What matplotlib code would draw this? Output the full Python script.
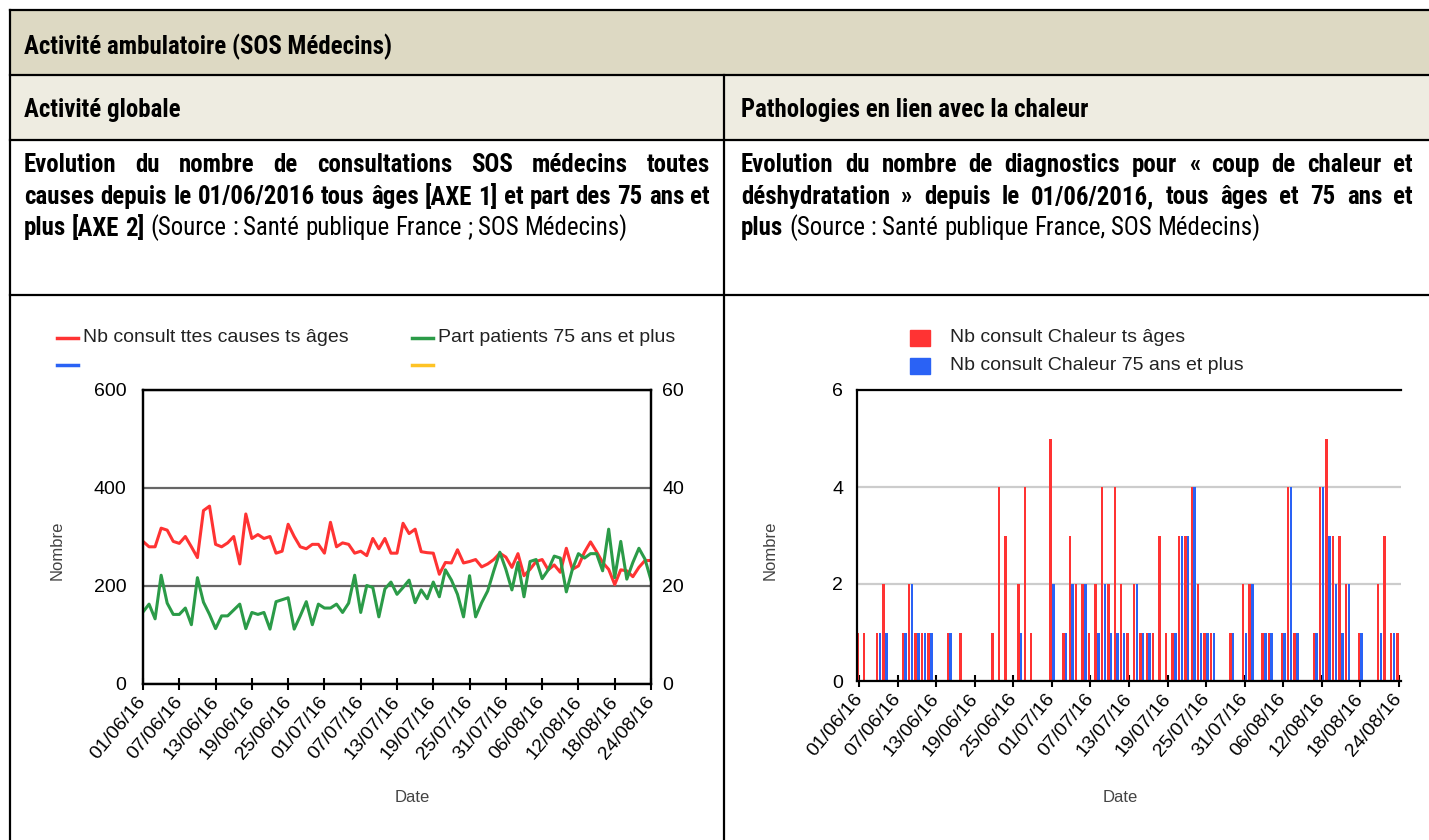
import matplotlib
matplotlib.use('Agg')
import matplotlib.pyplot as plt
from matplotlib.lines import Line2D
from matplotlib.patches import Rectangle
import numpy as np
import pandas as pd

W, H = 1429, 840

# ---- data ----
dates = pd.date_range('2016-06-01', '2016-08-24', freq='D')
date_labels = list(dates.strftime('%d/%m/%y'))

# Nb consult ttes causes ts ages (axe 1)
nb_total = [291, 280, 280, 318, 314, 291, 287, 301, 280, 258,
            354, 363, 285, 280, 288, 301, 245, 347, 297, 305,
            297, 301, 267, 271, 326, 301, 280, 276, 285, 285,
            267, 330, 280, 288, 285, 267, 271, 262, 297, 276,
            297, 267, 267, 328, 307, 316, 270, 268, 267, 224,
            248, 247, 274, 247, 250, 254, 239, 245, 254, 267,
            259, 238, 266, 221, 234, 250, 254, 233, 243, 228,
            277, 234, 241, 269, 290, 270, 248, 234, 203, 233,
            231, 219, 238, 252, 252]

# Part patients 75 ans et plus (axe 2, %)
part_75 = [14.7, 16.3, 13.3, 22.2, 16.5, 14.2, 14.2, 15.5, 12.1, 21.7,
           16.7, 14.2, 11.3, 13.9, 13.9, 15.1, 16.3, 11.3, 14.6, 14.2,
           14.6, 11.2, 16.8, 17.2, 17.6, 11.2, 13.9, 16.8, 12.1, 16.3,
           15.5, 15.5, 16.3, 14.6, 16.5, 22.2, 14.6, 20.1, 19.7, 13.7,
           19.4, 20.8, 18.3, 19.7, 21.2, 16.6, 19.2, 17.4, 20.8, 17.8,
           23.3, 21.2, 18.3, 13.7, 22.1, 13.7, 16.6, 19.0, 23.1, 26.9,
           23.4, 19.2, 24.8, 17.8, 25.0, 25.4, 21.5, 23.3, 26.1, 25.7,
           18.8, 23.4, 26.6, 25.7, 26.6, 26.6, 23.1, 31.6, 21.7, 29.1,
           21.4, 24.8, 27.7, 25.5, 21.2]

# Nb consult Chaleur ts ages / 75 ans et plus
chaleur_tous = [1, 1, 0, 1, 2, 0, 0, 1, 2, 1,
                1, 1, 0, 0, 1, 0, 1, 0, 0, 0,
                0, 1, 4, 3, 0, 2, 4, 1, 0, 0,
                5, 0, 1, 3, 2, 2, 1, 2, 4, 2,
                4, 2, 1, 2, 1, 1, 1, 3, 1, 1,
                3, 3, 4, 2, 1, 1, 0, 0, 1, 0,
                2, 2, 0, 1, 1, 0, 1, 4, 1, 0,
                0, 1, 4, 5, 3, 3, 2, 0, 1, 0,
                0, 2, 3, 1, 1]
chaleur_75 = [0, 0, 0, 1, 1, 0, 0, 1, 2, 1,
              1, 1, 0, 0, 1, 0, 0, 0, 0, 0,
              0, 0, 0, 0, 0, 1, 0, 0, 0, 0,
              2, 0, 1, 2, 0, 2, 0, 1, 2, 1,
              1, 1, 0, 2, 1, 1, 0, 0, 0, 1,
              3, 3, 4, 1, 1, 1, 0, 0, 1, 0,
              1, 2, 0, 1, 1, 0, 1, 4, 1, 0,
              0, 1, 4, 3, 2, 1, 2, 0, 1, 0,
              0, 1, 0, 1, 0]

RED = '#ff3333'
GREEN = '#2b9b48'
BLUE = '#2a62f5'
YELLOW = '#fec325'

# table text is in a narrow face in the reference
TXT_FONT = ['Roboto Condensed', 'Liberation Sans']
plt.rcParams['font.family'] = ['Liberation Sans', 'DejaVu Sans']

fig = plt.figure(figsize=(W / 100, H / 100), dpi=100)
renderer = fig.canvas.get_renderer()


def fx(x):
    return x / W


def fy(y):
    return 1 - y / H


# size the narrow face so the title spans about the same width as in the reference
probe = fig.text(0, 0, 'Activité ambulatoire (SOS Médecins)', family=TXT_FONT,
                 fontsize=10, fontweight='bold')
TXT_SIZE = 10 * 368 / probe.get_window_extent(renderer).width
probe.remove()

# ---- table frame ----
fig.add_artist(Rectangle((fx(10), fy(75)), 1, (75 - 10) / H, color='#ddd9c3',
                         transform=fig.transFigure, zorder=0))
fig.add_artist(Rectangle((fx(10), fy(140)), 1, (140 - 75) / H, color='#eeece1',
                         transform=fig.transFigure, zorder=0))
for y in [10, 75, 140, 295]:
    fig.add_artist(Line2D([fx(10), 1], [fy(y)] * 2, color='black', lw=1.6))
fig.add_artist(Line2D([fx(10)] * 2, [fy(10), 0], color='black', lw=1.6))
fig.add_artist(Line2D([fx(724)] * 2, [fy(75), 0], color='black', lw=1.6))

fig.text(fx(24), fy(47), 'Activité ambulatoire (SOS Médecins)', family=TXT_FONT,
         fontsize=TXT_SIZE, fontweight='bold', va='center')
fig.text(fx(24), fy(110), 'Activité globale', family=TXT_FONT,
         fontsize=TXT_SIZE, fontweight='bold', va='center')
fig.text(fx(741), fy(110), 'Pathologies en lien avec la chaleur', family=TXT_FONT,
         fontsize=TXT_SIZE, fontweight='bold', va='center')


def space_width(weight):
    a = fig.text(0, 0, 'x x', family=TXT_FONT, fontsize=TXT_SIZE, fontweight=weight)
    b = fig.text(0, 0, 'xx', family=TXT_FONT, fontsize=TXT_SIZE, fontweight=weight)
    w = a.get_window_extent(renderer).width - b.get_window_extent(renderer).width
    a.remove()
    b.remove()
    return w


def put_line(parts, x0, x1, y, justify):
    texts = [fig.text(fx(x0), fy(y), w, family=TXT_FONT, fontsize=TXT_SIZE,
                      fontweight=wt, va='center') for w, wt in parts]
    widths = [t.get_window_extent(renderer).width for t in texts]
    if justify:
        gaps = [(x1 - x0 - sum(widths)) / (len(parts) - 1)] * len(parts)
    else:
        gaps = [space_width(wt) for _, wt in parts]
    x = x0
    for t, w, g in zip(texts, widths, gaps):
        t.set_x(fx(x))
        x += w + g


def words(s, weight):
    return [(w, weight) for w in s.split()]


put_line(words('Evolution du nombre de consultations SOS médecins toutes', 'bold'),
         24, 710, 165, True)
put_line(words('causes depuis le 01/06/2016 tous âges [AXE 1] et part des 75 ans et', 'bold'),
         24, 710, 197, True)
put_line(words('plus [AXE 2]', 'bold') +
         words('(Source : Santé publique France ; SOS Médecins)', 'normal'),
         24, 710, 228, False)

put_line(words('Evolution du nombre de diagnostics pour « coup de chaleur et', 'bold'),
         741, 1413, 165, True)
put_line(words('déshydratation » depuis le 01/06/2016, tous âges et 75 ans et', 'bold'),
         741, 1413, 197, True)
put_line(words('plus', 'bold') +
         words('(Source : Santé publique France, SOS Médecins)', 'normal'),
         741, 1413, 228, False)

days = np.arange(len(dates))
ticks = days[::6]


def style_x(ax):
    ax.set_xticks(ticks)
    ax.set_xticklabels([date_labels[i] for i in ticks], rotation=50, ha='right',
                       va='center', rotation_mode='anchor', fontsize=14)
    ax.tick_params(axis='x', direction='inout', length=8, width=1.5, pad=7)


# ---- left chart ----
ax1 = fig.add_axes([fx(143), fy(684), 508 / W, 294 / H])
ax1.plot(days, nb_total, color=RED, lw=2.2)
ax1.set_xlim(0, 84)
ax1.set_ylim(0, 600)
ax1.set_yticks([0, 200, 400, 600])
ax1.grid(axis='y', color='#666666', lw=1.6)
ax1.tick_params(axis='y', length=0, pad=12, labelsize=14)
style_x(ax1)
for s in ax1.spines.values():
    s.set_linewidth(1.6)

ax2 = ax1.twinx()
ax2.plot(days, part_75, color=GREEN, lw=2.2)
ax2.set_ylim(0, 60)
ax2.set_yticks([0, 20, 40, 60])
ax2.tick_params(axis='y', length=0, pad=8, labelsize=14)
for s in ax2.spines.values():
    s.set_linewidth(1.6)

fig.text(fx(57), fy(550), 'Nombre', rotation=90, fontsize=12, color='#444444',
         ha='center', va='center')
fig.text(fx(412), fy(797), 'Date', fontsize=12, color='#444444', ha='center', va='center')

leg_items = [(57, 338, RED, 'Nb consult ttes causes ts âges'),
             (57, 365, BLUE, ''),
             (412, 338, GREEN, 'Part patients 75 ans et plus'),
             (412, 365, YELLOW, '')]
for x, y, c, lab in leg_items:
    fig.add_artist(Line2D([fx(x), fx(x + 21)], [fy(y)] * 2, color=c, lw=2.5))
    fig.text(fx(x + 26), fy(y), lab, fontsize=14, color='#222222', va='center')

# ---- right chart ----
ax3 = fig.add_axes([fx(857), fy(681), 544 / W, 291 / H])
ax3.bar(days - 0.22, chaleur_tous, width=0.38, color=RED)
ax3.bar(days + 0.22, chaleur_75, width=0.38, color=BLUE)
ax3.set_xlim(-0.35, 84.35)
ax3.set_ylim(0, 6)
ax3.set_yticks([0, 2, 4, 6])
ax3.set_axisbelow(True)
ax3.grid(axis='y', color='#cccccc', lw=1.6)
ax3.spines['right'].set_visible(False)
for s in ['left', 'top', 'bottom']:
    ax3.spines[s].set_linewidth(1.6)
ax3.tick_params(axis='y', length=0, pad=10, labelsize=14)
style_x(ax3)

fig.text(fx(770), fy(550), 'Nombre', rotation=90, fontsize=12, color='#444444',
         ha='center', va='center')
fig.text(fx(1120), fy(797), 'Date', fontsize=12, color='#444444', ha='center', va='center')

for y, c, lab in [(338, RED, 'Nb consult Chaleur ts âges'),
                  (366, BLUE, 'Nb consult Chaleur 75 ans et plus')]:
    fig.add_artist(Rectangle((fx(910), fy(y + 8)), 20 / W, 16 / H, color=c,
                             transform=fig.transFigure))
    fig.text(fx(950), fy(y), lab, fontsize=14, color='#222222', va='center')

fig.savefig('out.png', dpi=100)
